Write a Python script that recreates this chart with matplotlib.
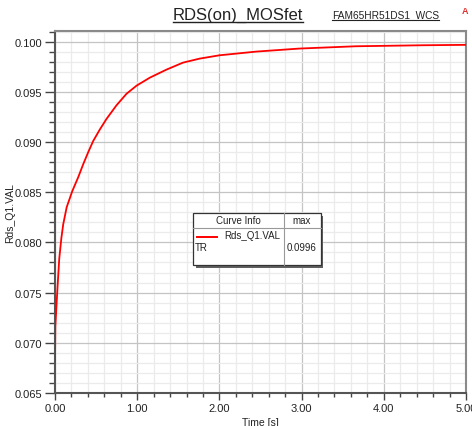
import matplotlib
matplotlib.use("Agg")
import matplotlib.pyplot as plt
from matplotlib.ticker import MultipleLocator, FormatStrFormatter
from matplotlib.patches import Rectangle
from matplotlib.lines import Line2D

plt.rcParams['font.family'] = ['Liberation Sans', 'DejaVu Sans']

# ---- data ----
time_s = [0, 0.004, 0.018, 0.034, 0.052, 0.077, 0.100, 0.142, 0.21, 0.283,
          0.344, 0.405, 0.465, 0.546, 0.627, 0.748, 0.870, 0.991, 1.153, 1.355,
          1.557, 1.76, 2.0, 2.45, 2.97, 3.66, 4.47, 5.0]
rds_val = [0.0681, 0.0716, 0.0737, 0.0760, 0.0784, 0.0804, 0.0818, 0.0835, 0.0851,
           0.0865, 0.0878, 0.0890, 0.0901, 0.09125, 0.0923, 0.09365, 0.0948, 0.0956,
           0.0964, 0.0972, 0.0979, 0.0983, 0.09863, 0.0990, 0.0993, 0.09953,
           0.09963, 0.09967]
title = "RDS(on)_MOSfet"
subtitle = "FAM65HR51DS1_WCS"
curve_name = "Rds_Q1.VAL"
legend_row = "TR"
max_label = "0.0996"

W, H = 472, 427
fig = plt.figure(figsize=(W / 100, H / 100), dpi=100)
fig.patch.set_facecolor('white')


def fx(x):
    return x / W


def fy(y):
    return 1 - y / H


ax = fig.add_axes([fx(55), fy(394), fx(466) - fx(55), fy(31.7) - fy(394)])
ax.plot(time_s, rds_val, color='#ff0000', lw=1.3, zorder=3,
        solid_joinstyle='round', solid_capstyle='round')
ax.set_xlim(0, 5.0)
ax.set_ylim(0.065, 0.10108)

ax.xaxis.set_major_locator(MultipleLocator(1.0))
ax.xaxis.set_minor_locator(MultipleLocator(0.2))
ax.yaxis.set_major_locator(MultipleLocator(0.005))
ax.yaxis.set_minor_locator(MultipleLocator(0.001))
ax.xaxis.set_major_formatter(FormatStrFormatter('%.2f'))
ax.yaxis.set_major_formatter(FormatStrFormatter('%.3f'))

ax.grid(which='major', color='#c4c4c4', lw=0.9, zorder=0)
ax.grid(which='minor', color='#ebebeb', lw=0.9, zorder=0)
ax.set_axisbelow(True)

ax.tick_params(axis='both', which='major', labelsize=8, labelcolor='#222222',
               color='#444444', width=1.0)
ax.tick_params(axis='y', which='major', length=7, pad=2)
ax.tick_params(axis='y', which='minor', length=4, width=1.0, color='#444444')
ax.tick_params(axis='x', which='major', length=5, pad=2)
ax.tick_params(axis='x', which='minor', length=3, width=1.0, color='#444444')

for s in ['left', 'bottom']:
    ax.spines[s].set_color('#555555')
    ax.spines[s].set_linewidth(1.5)
for s in ['top', 'right']:
    ax.spines[s].set_color('#8a8a8a')
    ax.spines[s].set_linewidth(1.5)

ax.set_xlabel("Time [s]", fontsize=7.5, color='#222222', labelpad=3)
fig.text(fx(10), fy(213), curve_name, fontsize=7.5, rotation=90,
         ha='center', va='center', color='#222222')

# ---- titles (underlined) ----
t1 = fig.text(fx(238), fy(15), title, fontsize=12, ha='center', va='center', color='#222222')
t2 = fig.text(fx(385.5), fy(15), subtitle, fontsize=7.3, ha='center', va='center', color='#222222')
fig.text(fx(462), fy(12), "A", fontsize=6.5, ha='left', va='center', color='#e03030', fontweight='bold')

fig.canvas.draw()
r = fig.canvas.get_renderer()
for t, lw in [(t1, 1.0), (t2, 0.8)]:
    bb = t.get_window_extent(r)
    yy = bb.y0 - 0.5
    fig.add_artist(Line2D([bb.x0 / W, bb.x1 / W], [yy / H, yy / H],
                          transform=fig.transFigure, color='#222222', lw=lw))

# ---- curve info box ----
bx0, bx1, by0, by1 = 193, 321, 214, 266
fig.add_artist(Rectangle((fx(bx0 + 2.5), fy(by1 + 2.5)), fx(bx1) - fx(bx0), fy(by0) - fy(by1),
                         transform=fig.transFigure, facecolor='#606060', edgecolor='none', zorder=5))
fig.add_artist(Rectangle((fx(bx0), fy(by1)), fx(bx1) - fx(bx0), fy(by0) - fy(by1),
                         transform=fig.transFigure, facecolor='white', edgecolor='#333333',
                         lw=0.9, zorder=6))
fig.add_artist(Line2D([fx(bx0), fx(bx1)], [fy(228.5), fy(228.5)], transform=fig.transFigure,
                      color='#999999', lw=0.8, zorder=7))
fig.add_artist(Line2D([fx(283.5), fx(283.5)], [fy(by0), fy(by1)], transform=fig.transFigure,
                      color='#999999', lw=0.8, zorder=7))
fig.text(fx(238), fy(221.5), "Curve Info", fontsize=7, ha='center', va='center', color='#222222', zorder=8)
fig.text(fx(302), fy(221.5), "max", fontsize=7, ha='center', va='center', color='#222222', zorder=8)
fig.add_artist(Line2D([fx(197), fx(217)], [fy(237.5), fy(237.5)], transform=fig.transFigure,
                      color='#ff0000', lw=1.4, zorder=8))
fig.text(fx(224), fy(236.5), curve_name, fontsize=7, ha='left', va='center', color='#222222', zorder=8)
fig.text(fx(195), fy(248), legend_row, fontsize=7, ha='left', va='center', color='#222222', zorder=8)
fig.text(fx(302), fy(248.5), max_label, fontsize=7, ha='center', va='center', color='#222222', zorder=8)

fig.savefig("out.png", dpi=100, facecolor='white')
